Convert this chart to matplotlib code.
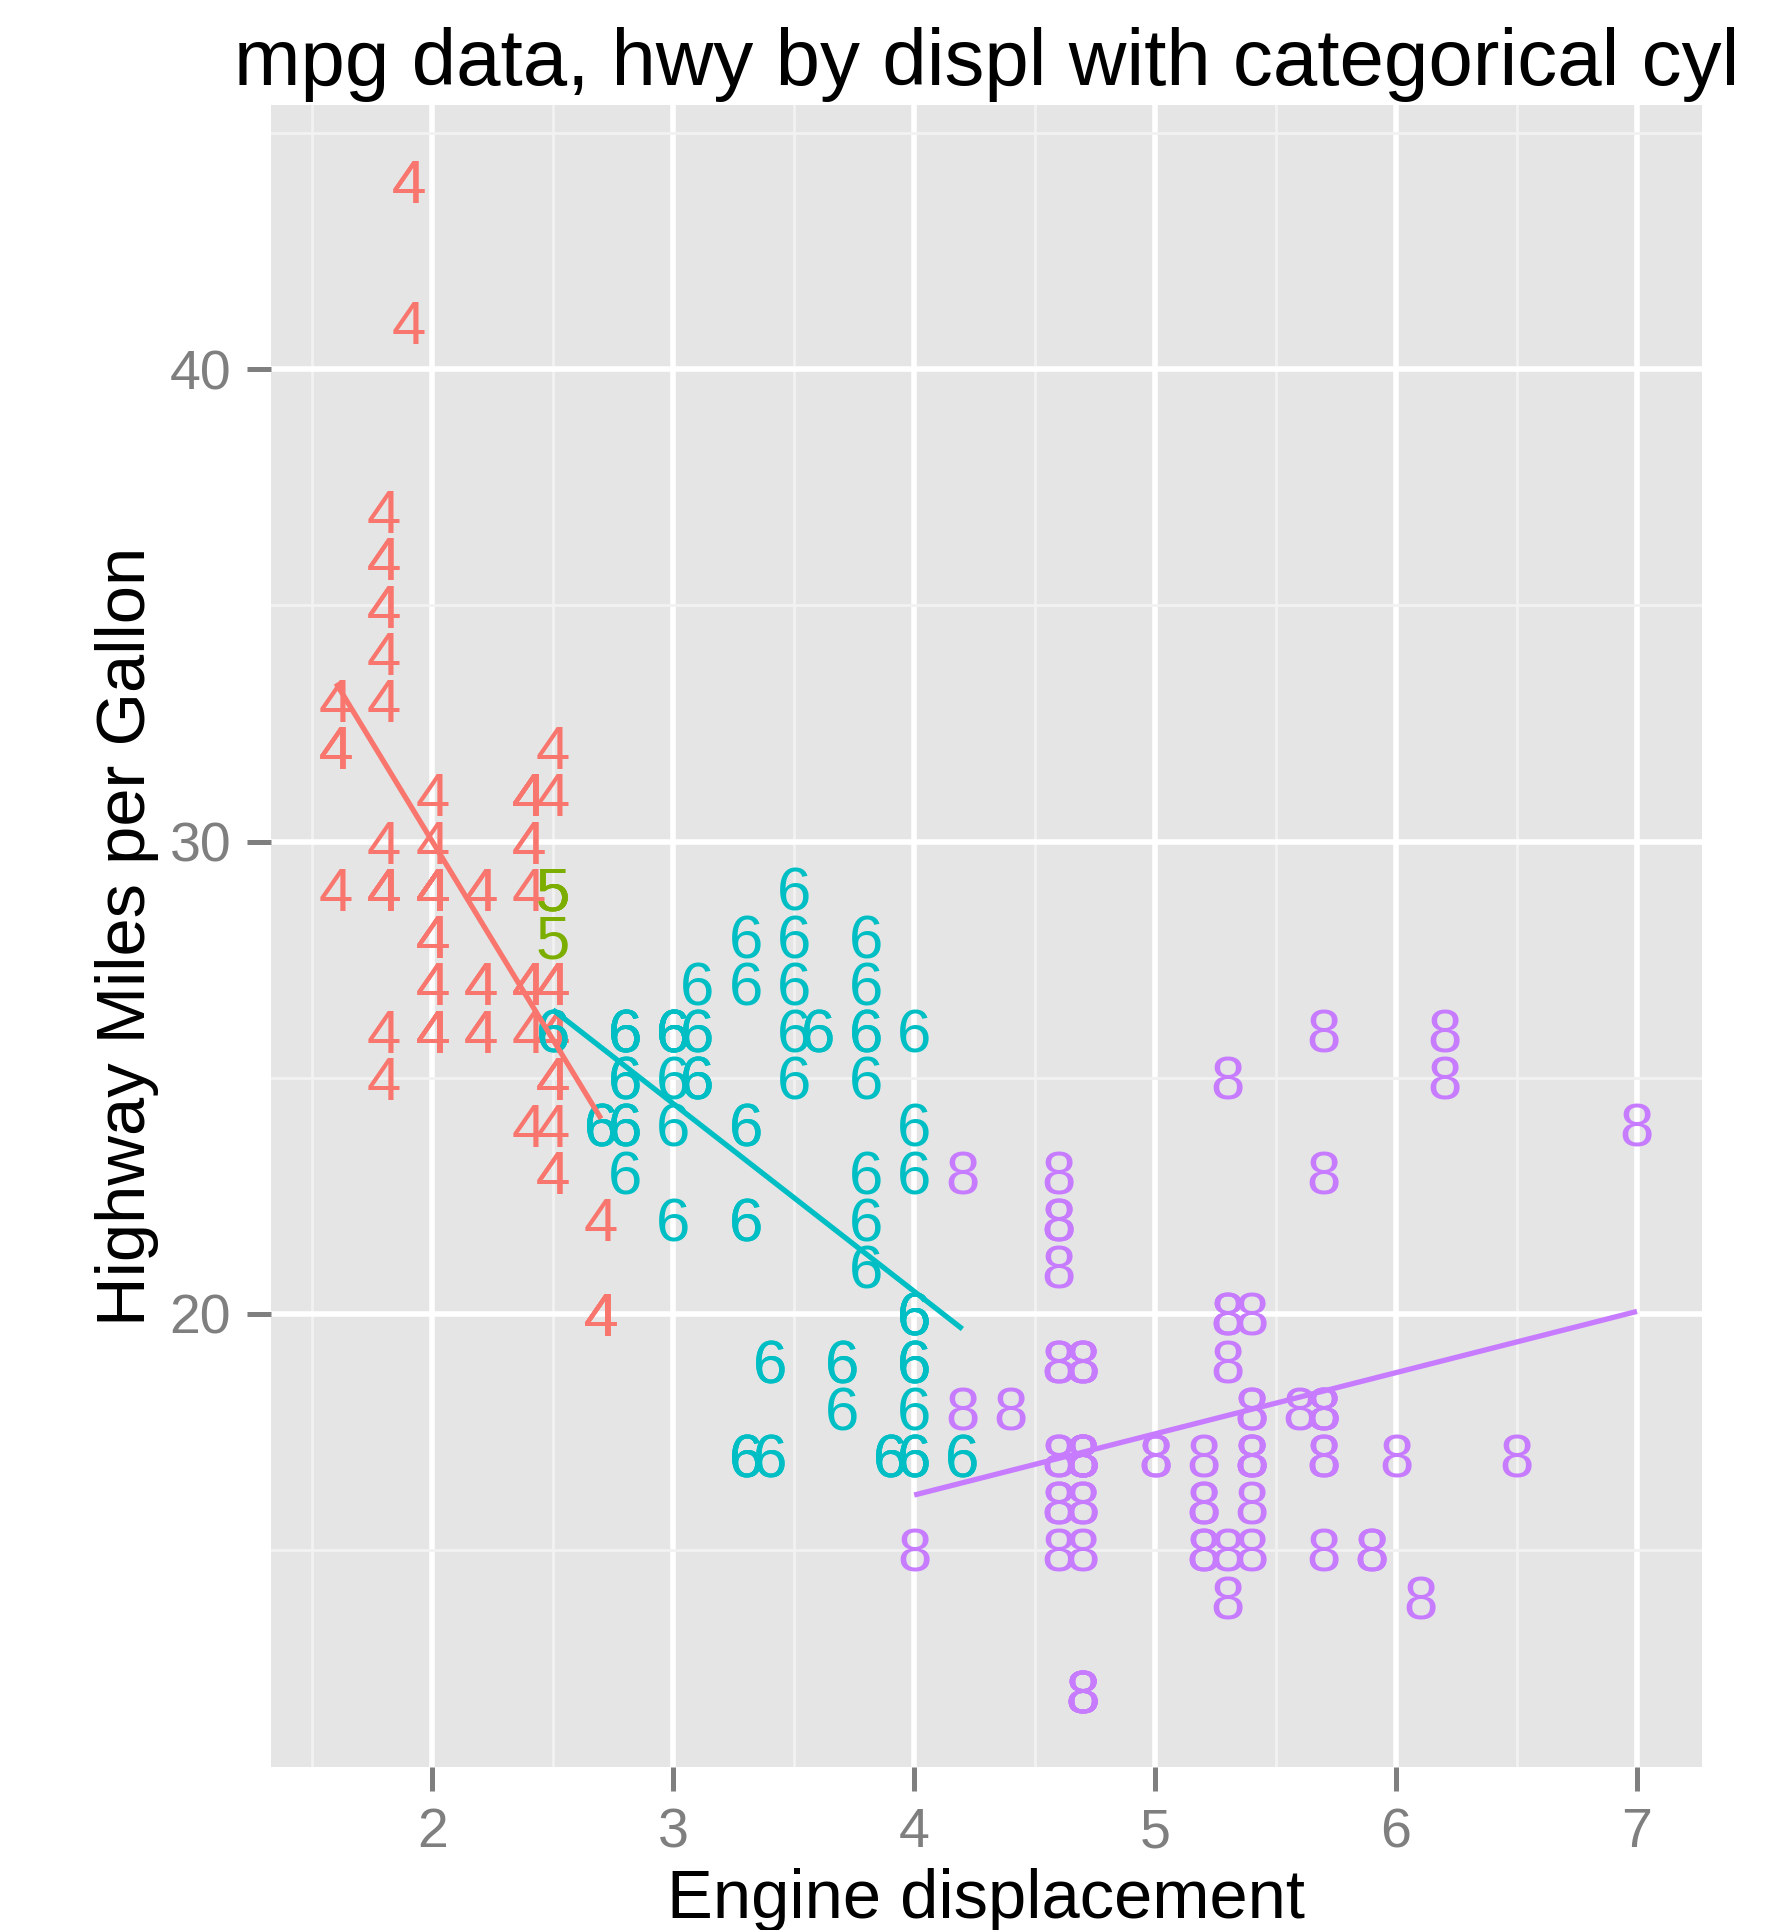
import numpy as np
import matplotlib
matplotlib.use("Agg")
import matplotlib.pyplot as plt
from matplotlib.transforms import offset_copy
from matplotlib.ticker import FixedLocator

plt.rcParams['font.family'] = ['Liberation Sans', 'DejaVu Sans']

# ---------------- data (mpg: displ vs hwy, by cylinder count) ----------------
displ_4cyl = [1.8, 1.8, 2.0, 2.0, 1.8, 1.8, 2.0, 2.0, 2.4, 2.4, 2.4, 1.6, 1.6, 1.6, 1.6, 1.6,
              1.8, 1.8, 1.8, 2.0, 2.4, 2.4, 2.4, 2.4, 2.0, 2.0, 2.0, 2.0, 2.4, 2.4, 2.5, 2.5,
              2.5, 2.5, 2.5, 2.5, 2.5, 2.5, 2.2, 2.2, 2.5, 2.5, 2.5, 2.5, 2.5, 2.5, 2.7, 2.7,
              2.2, 2.2, 2.4, 2.4, 2.2, 2.2, 2.4, 2.4, 1.8, 1.8, 1.8, 1.8, 1.8, 2.7, 2.7, 2.7,
              2.0, 2.0, 2.0, 2.0, 1.9, 2.0, 2.0, 2.0, 2.0, 1.9, 1.9, 2.0, 2.0, 1.8, 1.8, 2.0, 2.0]
hwy_4cyl = [29, 29, 31, 30, 26, 25, 28, 27, 27, 30, 24, 33, 32, 32, 29, 32,
            34, 36, 36, 29, 26, 27, 30, 31, 26, 29, 28, 27, 29, 27, 31, 32,
            25, 24, 27, 25, 26, 23, 26, 26, 26, 26, 27, 23, 27, 25, 20, 20,
            29, 27, 31, 31, 27, 29, 31, 31, 30, 33, 35, 37, 35, 20, 20, 22,
            29, 26, 29, 29, 44, 29, 26, 29, 29, 44, 41, 29, 26, 29, 29, 28, 29]

displ_5cyl = [2.5, 2.5, 2.5, 2.5]
hwy_5cyl = [29, 29, 28, 29]

displ_6cyl = [2.8, 2.8, 3.1, 2.8, 2.8, 3.1, 3.1, 2.8, 3.1, 3.1, 3.5, 3.6, 3.0, 3.3, 3.3, 3.3,
              3.3, 3.3, 3.8, 3.8, 3.8, 4.0, 3.7, 3.7, 3.9, 3.9, 3.9, 4.0, 4.0, 4.0, 4.0, 4.2,
              4.2, 3.8, 3.8, 4.0, 4.0, 2.5, 2.5, 3.3, 2.7, 2.7, 2.7, 3.0, 3.7, 4.0, 4.0, 4.0,
              3.5, 3.5, 3.0, 3.0, 3.5, 3.3, 3.3, 4.0, 3.1, 3.8, 3.8, 3.8, 3.4, 3.4, 4.0, 3.0,
              3.0, 3.5, 3.0, 3.0, 3.3, 3.4, 3.4, 4.0, 4.0, 2.8, 2.8, 2.8, 2.8, 2.8, 3.6]
hwy_6cyl = [26, 26, 27, 25, 25, 25, 25, 24, 25, 26, 29, 26, 24, 22, 22, 24,
            24, 17, 22, 21, 23, 23, 19, 18, 17, 17, 17, 17, 19, 17, 19, 17,
            17, 26, 25, 26, 24, 26, 26, 28, 24, 24, 24, 22, 19, 20, 17, 19,
            27, 26, 26, 25, 25, 17, 17, 20, 26, 26, 27, 28, 19, 17, 20, 26,
            26, 28, 26, 26, 27, 17, 19, 18, 20, 24, 23, 24, 26, 26, 26]

displ_8cyl = [4.2, 5.3, 5.3, 5.3, 5.7, 6.0, 5.7, 5.7, 6.2, 6.2, 7.0, 5.3, 5.3, 5.7, 6.5,
              4.7, 4.7, 4.7, 5.2, 5.2, 4.7, 4.7, 4.7, 5.2, 5.7, 5.9, 4.7, 4.7, 4.7, 4.7,
              4.7, 4.7, 5.2, 5.2, 5.7, 5.9, 4.6, 5.4, 5.4, 4.6, 5.0, 4.6, 4.6, 4.6, 5.4,
              5.4, 4.6, 4.6, 4.6, 4.6, 5.4, 4.7, 4.7, 4.7, 5.7, 6.1, 4.0, 4.2, 4.4, 4.6,
              5.4, 5.4, 5.4, 4.6, 5.0, 5.6, 5.3, 4.7, 4.7, 5.7]
hwy_8cyl = [23, 20, 15, 20, 17, 17, 26, 23, 26, 25, 24, 19, 14, 15, 17,
            19, 19, 12, 17, 15, 17, 12, 17, 16, 18, 15, 16, 12, 17, 17,
            16, 12, 15, 16, 17, 15, 17, 17, 18, 19, 17, 16, 16, 17, 15,
            17, 21, 22, 23, 22, 20, 17, 12, 19, 18, 14, 15, 18, 18, 15,
            17, 16, 18, 19, 17, 18, 25, 17, 15, 18]

cyl_labels = ['4', '5', '6', '8']
cyl_colors = ['#F8766D', '#7CAE00', '#00BFC4', '#C77CFF']
groups = [(displ_4cyl, hwy_4cyl), (displ_5cyl, hwy_5cyl),
          (displ_6cyl, hwy_6cyl), (displ_8cyl, hwy_8cyl)]

x_major = [2, 3, 4, 5, 6, 7]
x_minor = [1.5, 2.5, 3.5, 4.5, 5.5, 6.5]
y_major = [20, 30, 40]
y_minor = [15, 25, 35, 45]

title = 'mpg data, hwy by displ with categorical cyl'
xlabel = 'Engine displacement'
ylabel = 'Highway Miles per Gallon'

# ---------------- figure ----------------
W, H, DPI = 1786, 1930, 100
fig = plt.figure(figsize=(W / DPI, H / DPI), dpi=DPI)
left, right, top, bottom = 271, 1702, 105, 1767
ax = fig.add_axes([left / W, 1 - bottom / H, (right - left) / W, (bottom - top) / H])
ax.set_facecolor('#E5E5E5')
for s in ax.spines.values():
    s.set_visible(False)

all_x = np.concatenate([np.asarray(g[0], float) for g in groups])
all_y = np.concatenate([np.asarray(g[1], float) for g in groups])
xr = all_x.max() - all_x.min()
yr = all_y.max() - all_y.min()
ax.set_xlim(all_x.min() - 0.05 * xr, all_x.max() + 0.05 * xr)
ax.set_ylim(all_y.min() - 0.05 * yr, all_y.max() + 0.05 * yr)

ax.xaxis.set_major_locator(FixedLocator(x_major))
ax.yaxis.set_major_locator(FixedLocator(y_major))
ax.xaxis.set_minor_locator(FixedLocator(x_minor))
ax.yaxis.set_minor_locator(FixedLocator(y_minor))
ax.set_xticklabels([str(v) for v in x_major])
ax.set_yticklabels([str(v) for v in y_major])
ax.set_axisbelow(True)
ax.grid(which='major', color='white', linewidth=4.0)
ax.grid(which='minor', color='#F2F2F2', linewidth=2.0)
ax.tick_params(which='major', length=17.3, width=3.6, color='#7F7F7F',
               labelcolor='#7F7F7F', labelsize=40, pad=11.5)
ax.tick_params(which='minor', length=0)

# text labels: digit centred on the data point
label_fs = 44.5
cap = 0.716 * label_fs
trans = offset_copy(ax.transData, fig=fig, x=0, y=-cap / 2, units='points')
for (xs, ys), lab, col in zip(groups, cyl_labels, cyl_colors):
    for xv, yv in zip(xs, ys):
        ax.text(xv, yv, lab, color=col, fontsize=label_fs, ha='center',
                va='baseline', transform=trans, zorder=3)

# per-group linear fits
for (xs, ys), col in zip(groups, cyl_colors):
    xs = np.asarray(xs, float)
    ys = np.asarray(ys, float)
    if np.unique(xs).size < 2:
        continue
    k, b = np.polyfit(xs, ys, 1)
    xx = np.linspace(xs.min(), xs.max(), 80)
    ax.plot(xx, k * xx + b, color=col, linewidth=3.8, zorder=4,
            solid_capstyle='butt')

cx = (left + right) / 2 / W
fig.text(cx, 1 - 85 / H, title, fontsize=57.5, ha='center', va='baseline', color='black')
fig.text(cx, 1 - 1918 / H, xlabel, fontsize=49.5, ha='center', va='baseline', color='black')
fig.text(145 / W, 1 - ((top + bottom) / 2) / H, ylabel, fontsize=49.5, rotation=90,
         rotation_mode='anchor', ha='center', va='baseline', color='black')

fig.savefig('out.png', dpi=DPI, facecolor='white')
